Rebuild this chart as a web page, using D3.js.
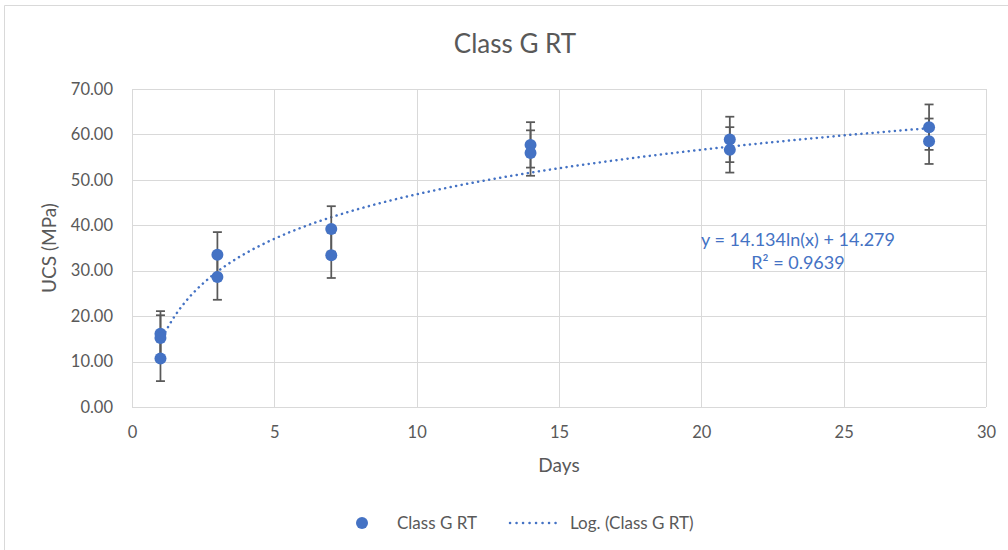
<!DOCTYPE html>
<html>
<head>
<meta charset="utf-8">
<script src="https://cdn.jsdelivr.net/npm/d3@7"></script>
<style>
    body { margin: 0; background: #fff; }
    svg { display: block; font-family: Lato, "Open Sans", sans-serif; }
</style>
</head>
<body>
<svg id="chart" width="1008" height="550"></svg>
<script>
// measured values (days, UCS MPa) and error bar sizes
var days = [1, 1, 1, 3, 3, 7, 7, 14, 14, 21, 21, 28, 28];
var ucs = [16.1, 15.2, 10.7, 33.5, 28.6, 39.2, 33.4, 57.7, 55.9, 58.9, 56.6, 61.6, 58.5];
var errs = [5, 5, 5, 5, 5, 5, 5, 5, 5, 5, 5, 5, 5];

var xTicks = [0, 5, 10, 15, 20, 25, 30];
var yTicks = [0, 10, 20, 30, 40, 50, 60, 70];

// log trendline from excel: y = a ln(x) + b
var trendA = 14.134;
var trendB = 14.279;
var trendR2 = 0.9639;

var blue = "#4472c4";
var grey = "#595959";
var gridColor = "#d9d9d9";

var svg = d3.select("#chart");

// chart border
svg.append("path")
    .attr("d", "M4.5,550V5.5H1008")
    .attr("fill", "none")
    .attr("stroke", gridColor)
    .attr("stroke-width", 1);

var x = d3.scaleLinear().domain([0, 30]).range([132, 986]);
var y = d3.scaleLinear().domain([0, 70]).range([407, 89]);

// gridlines
svg.append("g")
    .selectAll("line.h")
    .data(yTicks)
    .enter()
    .append("line")
    .attr("x1", x(0)).attr("x2", x(30))
    .attr("y1", function(d){ return Math.round(y(d)) + 0.5; })
    .attr("y2", function(d){ return Math.round(y(d)) + 0.5; })
    .attr("stroke", gridColor);

svg.append("g")
    .selectAll("line.v")
    .data(xTicks)
    .enter()
    .append("line")
    .attr("y1", y(0)).attr("y2", y(70))
    .attr("x1", function(d){ return Math.round(x(d)) + 0.5; })
    .attr("x2", function(d){ return Math.round(x(d)) + 0.5; })
    .attr("stroke", gridColor);

// axes, only labels shown
var yAxis = svg.append("g")
    .attr("transform", "translate(" + x(0) + ",0)")
    .call(d3.axisLeft(y).tickValues(yTicks).tickSize(0).tickPadding(19)
        .tickFormat(d3.format(".2f")));
var xAxis = svg.append("g")
    .attr("transform", "translate(0," + y(0) + ")")
    .call(d3.axisBottom(x).tickValues(xTicks).tickSize(0).tickPadding(19));

[yAxis, xAxis].forEach(function(ax){
    ax.select(".domain").remove();
    ax.selectAll("text")
        .attr("fill", grey)
        .style("font-size", "16.5px")
        .style("font-family", "Lato, sans-serif");
});

// titles
svg.append("text")
    .attr("x", 515).attr("y", 53)
    .attr("text-anchor", "middle")
    .attr("fill", grey)
    .style("font-size", "26px")
    .text("Class G RT");

svg.append("text")
    .attr("x", 559).attr("y", 472)
    .attr("text-anchor", "middle")
    .attr("fill", grey)
    .style("font-size", "19px")
    .text("Days");

svg.append("text")
    .attr("transform", "translate(56,248) rotate(-90)")
    .attr("text-anchor", "middle")
    .attr("fill", grey)
    .style("font-size", "19px")
    .text("UCS (MPa)");

// trendline
var trendX = d3.range(1, 28.01, 0.1);
var line = d3.line()
    .x(function(d){ return x(d); })
    .y(function(d){ return y(trendA * Math.log(d) + trendB); });

svg.append("path")
    .datum(trendX)
    .attr("d", line)
    .attr("fill", "none")
    .attr("stroke", blue)
    .attr("stroke-width", 2.5)
    .attr("stroke-linecap", "round")
    .attr("stroke-dasharray", "0.1 5.5");

// error bars
var pts = days.map(function(d, i){ return {day: d, v: ucs[i], e: errs[i]}; });

var bars = svg.append("g").selectAll("g")
    .data(pts)
    .enter()
    .append("g")
    .attr("stroke", grey)
    .attr("stroke-width", 1.75);

bars.append("line")
    .attr("x1", function(d){ return x(d.day); })
    .attr("x2", function(d){ return x(d.day); })
    .attr("y1", function(d){ return y(d.v - d.e); })
    .attr("y2", function(d){ return y(d.v + d.e); });

[-1, 1].forEach(function(s){
    bars.append("line")
        .attr("x1", function(d){ return x(d.day) - 4.5; })
        .attr("x2", function(d){ return x(d.day) + 4.5; })
        .attr("y1", function(d){ return y(d.v + s * d.e); })
        .attr("y2", function(d){ return y(d.v + s * d.e); });
});

// points
svg.append("g").selectAll("circle")
    .data(pts)
    .enter()
    .append("circle")
    .attr("cx", function(d){ return x(d.day); })
    .attr("cy", function(d){ return y(d.v); })
    .attr("r", 6)
    .attr("fill", blue);

// equation label
var eq = svg.append("g")
    .attr("fill", blue)
    .style("font-size", "18px")
    .attr("text-anchor", "middle");
eq.append("text")
    .attr("x", 798).attr("y", 246)
    .text("y = " + trendA + "ln(x) + " + trendB);
eq.append("text")
    .attr("x", 798).attr("y", 269)
    .text("R² = " + trendR2);

// legend
var legend = svg.append("g")
    .style("font-size", "17px")
    .attr("fill", grey);
legend.append("circle")
    .attr("cx", 362).attr("cy", 523).attr("r", 6)
    .attr("fill", blue);
legend.append("text")
    .attr("x", 397).attr("y", 529)
    .text("Class G RT");
legend.append("line")
    .attr("x1", 510).attr("x2", 562)
    .attr("y1", 523).attr("y2", 523)
    .attr("stroke", blue)
    .attr("stroke-width", 2.5)
    .attr("stroke-linecap", "round")
    .attr("stroke-dasharray", "0.1 6.4");
legend.append("text")
    .attr("x", 570).attr("y", 529)
    .text("Log. (Class G RT)");
</script>
</body>
</html>
